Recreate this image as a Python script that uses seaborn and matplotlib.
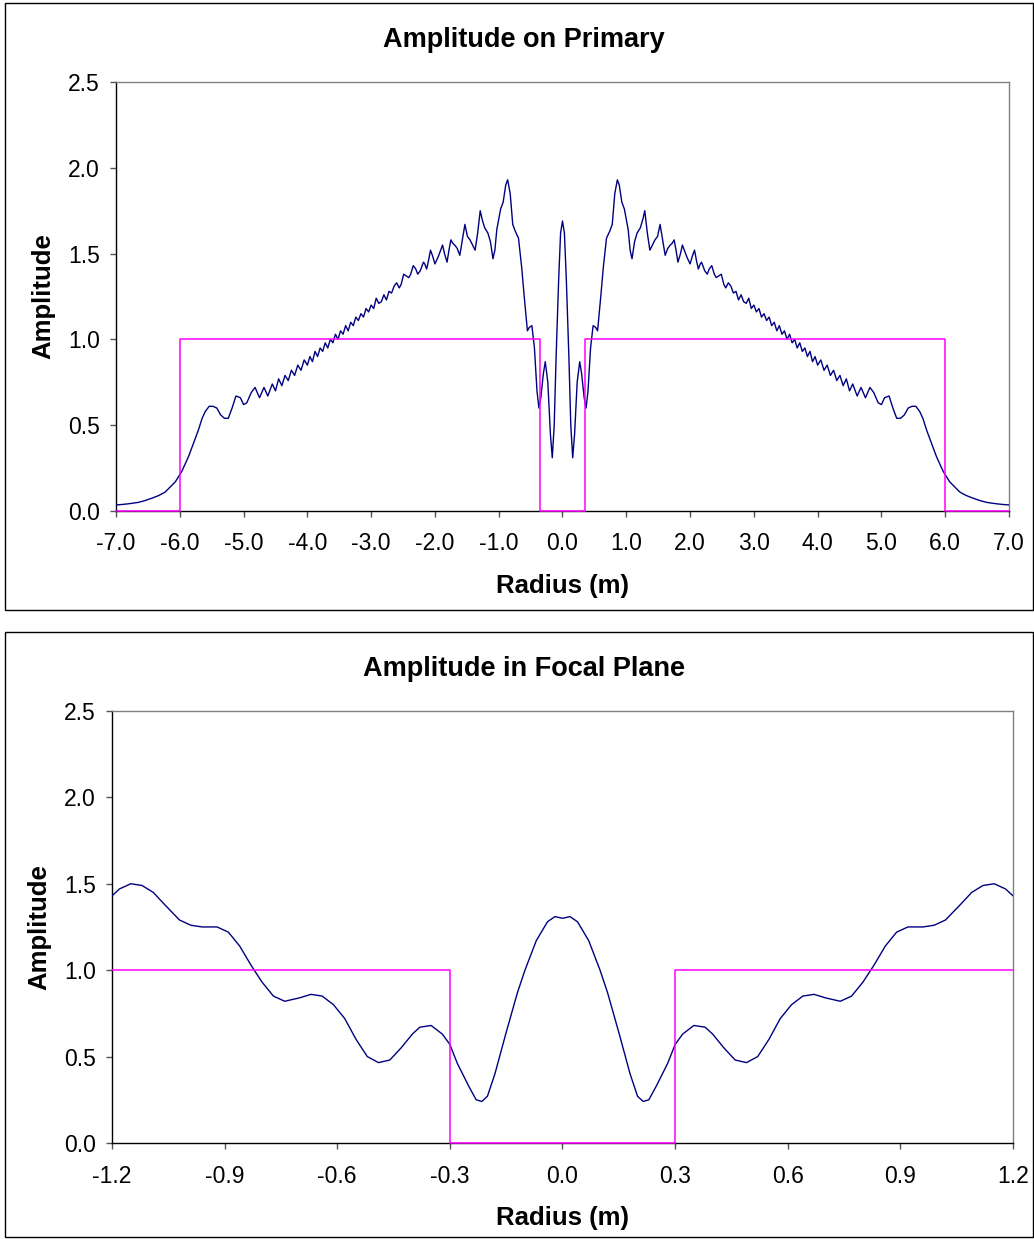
import matplotlib
matplotlib.use("Agg")
import matplotlib.pyplot as plt
import matplotlib.ticker as mticker
from matplotlib.patches import Rectangle
import seaborn as sns
import pandas as pd

sns.set_style("white")
plt.rcParams['font.family'] = ['Liberation Sans', 'DejaVu Sans']
plt.rcParams['axes.unicode_minus'] = False
plt.rcParams['text.color'] = 'black'
plt.rcParams['axes.labelcolor'] = 'black'

NAVY = '#000080'
MAGENTA = '#FF00FF'

# Amplitude on primary, right half (curve is symmetric about r = 0)
primary_r = [0.00, 0.03, 0.06, 0.10, 0.13, 0.16, 0.19, 0.23, 0.27, 0.30, 0.34, 0.37, 0.40, 0.44,
             0.48, 0.52, 0.55, 0.60, 0.64, 0.69, 0.74, 0.78, 0.82, 0.86, 0.89, 0.93, 0.97, 1.00,
             1.03, 1.06, 1.09, 1.13, 1.17, 1.22, 1.26, 1.29, 1.33, 1.37, 1.41, 1.45, 1.49, 1.53,
             1.57, 1.61, 1.65, 1.69, 1.72, 1.75, 1.78, 1.81, 1.85, 1.88, 1.91, 1.95, 2.00, 2.04,
             2.07, 2.10, 2.13, 2.16, 2.18, 2.23, 2.27, 2.30, 2.34, 2.38, 2.41, 2.45, 2.49, 2.53,
             2.56, 2.60, 2.64, 2.68, 2.72, 2.76, 2.80, 2.84, 2.88, 2.92, 2.96, 3.00, 3.04, 3.08,
             3.12, 3.16, 3.20, 3.24, 3.28, 3.32, 3.36, 3.40, 3.44, 3.48, 3.52, 3.56, 3.60, 3.64,
             3.68, 3.72, 3.76, 3.80, 3.84, 3.88, 3.92, 3.96, 4.00, 4.05, 4.10, 4.15, 4.20, 4.25,
             4.30, 4.35, 4.40, 4.45, 4.50, 4.55, 4.62, 4.68, 4.75, 4.82, 4.88, 4.95, 5.00, 5.05,
             5.12, 5.18, 5.24, 5.30, 5.36, 5.42, 5.48, 5.54, 5.60, 5.65, 5.71, 5.76, 5.81, 5.86,
             5.92, 5.97, 6.02, 6.07, 6.15, 6.23, 6.33, 6.44, 6.55, 6.65, 6.80, 6.90, 7.00]
primary_amp = [1.69, 1.62, 1.35, 0.90, 0.50, 0.31, 0.45, 0.75, 0.87, 0.80, 0.66, 0.60, 0.70, 0.95,
               1.08, 1.07, 1.05, 1.25, 1.42, 1.59, 1.63, 1.67, 1.85, 1.93, 1.90, 1.80, 1.76, 1.70,
               1.64, 1.52, 1.47, 1.57, 1.62, 1.65, 1.70, 1.75, 1.62, 1.52, 1.55, 1.58, 1.60, 1.67,
               1.58, 1.49, 1.53, 1.55, 1.56, 1.58, 1.52, 1.45, 1.50, 1.55, 1.52, 1.48, 1.44, 1.49,
               1.52, 1.46, 1.41, 1.44, 1.45, 1.40, 1.38, 1.41, 1.43, 1.38, 1.36, 1.37, 1.38, 1.32,
               1.30, 1.33, 1.31, 1.27, 1.28, 1.23, 1.26, 1.22, 1.21, 1.24, 1.18, 1.20, 1.16, 1.18,
               1.13, 1.15, 1.11, 1.13, 1.08, 1.10, 1.05, 1.08, 1.03, 1.05, 1.00, 1.03, 0.98, 1.00,
               0.95, 0.98, 0.93, 0.95, 0.90, 0.93, 0.87, 0.90, 0.85, 0.88, 0.82, 0.85, 0.79, 0.82,
               0.76, 0.79, 0.73, 0.77, 0.70, 0.74, 0.67, 0.72, 0.66, 0.72, 0.69, 0.63, 0.62, 0.66,
               0.67, 0.60, 0.54, 0.54, 0.56, 0.60, 0.61, 0.61, 0.58, 0.54, 0.47, 0.42, 0.37, 0.32,
               0.27, 0.23, 0.20, 0.17, 0.14, 0.11, 0.09, 0.074, 0.06, 0.05, 0.042, 0.038, 0.035]

# Primary mask (step)
primary_mask_r = [-7.0, -6.0, -6.0, -0.36, -0.36, 0.36, 0.36, 6.0, 6.0, 7.0]
primary_mask_v = [0, 0, 1, 1, 0, 0, 1, 1, 0, 0]

# Amplitude in focal plane, right half (symmetric)
focal_r = [0.00, 0.02, 0.04, 0.07, 0.10, 0.12, 0.15, 0.18, 0.20, 0.215, 0.23, 0.25, 0.28, 0.30,
           0.32, 0.35, 0.38, 0.40, 0.43, 0.46, 0.49, 0.52, 0.55, 0.58, 0.61, 0.64, 0.67, 0.70,
           0.74, 0.77, 0.80, 0.83, 0.86, 0.89, 0.92, 0.96, 0.99, 1.02, 1.06, 1.09, 1.12, 1.15,
           1.18, 1.20]
focal_amp = [1.30, 1.31, 1.28, 1.17, 1.00, 0.87, 0.64, 0.40, 0.27, 0.24, 0.25, 0.33, 0.46, 0.57,
             0.63, 0.68, 0.67, 0.63, 0.55, 0.48, 0.465, 0.50, 0.60, 0.72, 0.80, 0.85, 0.86, 0.84,
             0.82, 0.85, 0.93, 1.03, 1.14, 1.22, 1.25, 1.25, 1.26, 1.29, 1.38, 1.45, 1.49, 1.50,
             1.47, 1.43]

focal_mask_r = [-1.2, -0.30, -0.30, 0.30, 0.30, 1.2]
focal_mask_v = [1, 1, 0, 0, 1, 1]


def mirrored(r, a):
    rr = [-x for x in reversed(r[1:])] + list(r)
    aa = list(reversed(a[1:])) + list(a)
    return pd.DataFrame({'Radius': rr, 'Amplitude': aa})


def style_axes(ax, xlim, xstep):
    ax.set_xlim(*xlim)
    ax.set_ylim(0, 2.5)
    ax.xaxis.set_major_locator(mticker.MultipleLocator(xstep))
    ax.yaxis.set_major_locator(mticker.MultipleLocator(0.5))
    ax.xaxis.set_major_formatter(mticker.FormatStrFormatter('%.1f'))
    ax.yaxis.set_major_formatter(mticker.FormatStrFormatter('%.1f'))
    ax.tick_params(axis='both', direction='out', length=4.5, width=1, color='#555555',
                   labelsize=16.5, labelcolor='black', left=True, bottom=True)
    ax.tick_params(axis='x', pad=11)
    ax.tick_params(axis='y', pad=7)
    for side in ['top', 'right']:
        ax.spines[side].set_color('#808080')
        ax.spines[side].set_linewidth(1)
    for side in ['left', 'bottom']:
        ax.spines[side].set_color('black')
        ax.spines[side].set_linewidth(1)
    ax.set_xlabel('Radius (m)', fontsize=18.5, fontweight='bold', labelpad=13)
    ax.set_ylabel('Amplitude', fontsize=18.5, fontweight='bold', labelpad=9)
    legend = ax.get_legend()
    if legend:
        legend.remove()


fig = plt.figure(figsize=(10.34, 12.39), dpi=100)

# outer chart frames
fig.patches.append(Rectangle((5 / 1034, 1 - 610 / 1239), 1028 / 1034, 607 / 1239,
                             transform=fig.transFigure, fill=False, ec='black', lw=1))
fig.patches.append(Rectangle((5 / 1034, 1 - 1237 / 1239), 1028 / 1034, 605 / 1239,
                             transform=fig.transFigure, fill=False, ec='black', lw=1))

# top chart
ax1 = fig.add_axes([0.1122, 0.5876, 0.8636, 0.3462])
df_p = mirrored(primary_r, primary_amp)
sns.lineplot(data=df_p, x='Radius', y='Amplitude', sort=False, estimator=None,
             color=NAVY, lw=1.0, ax=ax1, zorder=3)
sns.lineplot(x=primary_mask_r, y=primary_mask_v, sort=False, estimator=None,
             color=MAGENTA, lw=1.1, ax=ax1, zorder=4, clip_on=False)
style_axes(ax1, (-7, 7), 1.0)
fig.text(524 / 1034, 1 - 40 / 1239, 'Amplitude on Primary', ha='center', va='center',
         fontsize=19.5, fontweight='bold')

# bottom chart
ax2 = fig.add_axes([0.1083, 0.0775, 0.8714, 0.3487])
df_f = mirrored(focal_r, focal_amp)
sns.lineplot(data=df_f, x='Radius', y='Amplitude', sort=False, estimator=None,
             color=NAVY, lw=1.0, ax=ax2, zorder=3)
sns.lineplot(x=focal_mask_r, y=focal_mask_v, sort=False, estimator=None,
             color=MAGENTA, lw=1.1, ax=ax2, zorder=4, clip_on=False)
style_axes(ax2, (-1.2, 1.2), 0.3)
fig.text(524 / 1034, 1 - 669 / 1239, 'Amplitude in Focal Plane', ha='center', va='center',
         fontsize=19.5, fontweight='bold')

fig.savefig('out.png', dpi=100)
